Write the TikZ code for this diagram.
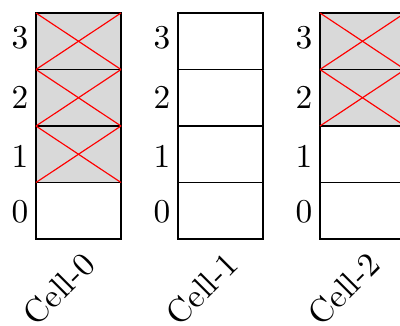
\documentclass[tikz,border=0pt]{standalone}
\begin{document}
\begin{tikzpicture}[x=0.3pt,y=0.3pt,
  cellbox/.style={draw=black,line width=0.55pt,minimum width=25.5pt,minimum height=16.95pt,inner sep=0pt,outer sep=0pt},
  used/.style={cellbox,fill=black!15},
  crossline/.style={draw=red,line width=0.35pt},
  idx/.style={font=\normalsize,inner sep=0pt},
  colname/.style={rotate=45,inner sep=0pt,font=\normalsize}]
\useasboundingbox (0,0) rectangle (400,325);
% column 0
\node[used] (a3) at (78.5,283.75) {};
\node[used] (a2) at (78.5,227.25) {};
\node[used] (a1) at (78.5,170.75) {};
\node[cellbox] (a0) at (78.5,114.25) {};
% column 1
\node[cellbox] (b3) at (220.5,283.75) {};
\node[cellbox] (b2) at (220.5,227.25) {};
\node[cellbox] (b1) at (220.5,170.75) {};
\node[cellbox] (b0) at (220.5,114.25) {};
% column 2
\node[used] (c3) at (362.5,283.75) {};
\node[used] (c2) at (362.5,227.25) {};
\node[cellbox] (c1) at (362.5,170.75) {};
\node[cellbox] (c0) at (362.5,114.25) {};
% crosses
\foreach \n in {a3,a2,a1,c3,c2}{
  \draw[crossline] (\n.north west) -- (\n.south east);
  \draw[crossline] (\n.south west) -- (\n.north east);
}
% index labels
\foreach \col/\x in {a/20,b/162,c/304}{
  \node[idx] (\col l3) at (\x,287) {3};
  \node[idx] (\col l2) at (\x,227.25) {2};
  \node[idx] (\col l1) at (\x,168.5) {1};
  \node[idx] (\col l0) at (\x,113.5) {0};
}
% column names
\node[colname] (n0) at (59,36) {Cell-0};
\node[colname] (n1) at (202,36) {Cell-1};
\node[colname] (n2) at (344,36) {Cell-2};
\end{tikzpicture}
\end{document}
